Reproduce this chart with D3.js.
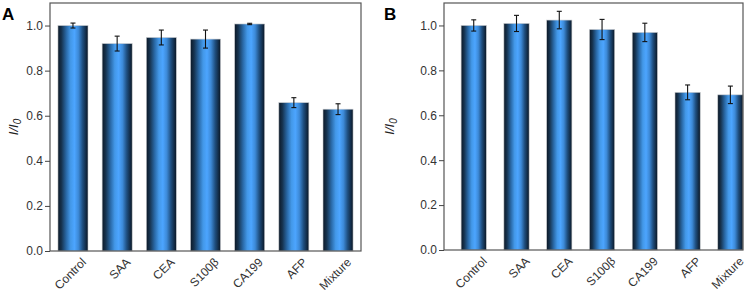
<!DOCTYPE html>
<html><head><meta charset="utf-8">
<script src="https://cdn.jsdelivr.net/npm/d3@7"></script>
<style>body{margin:0;background:#fff}svg{display:block}</style>
</head><body>
<svg id="c" width="754" height="295"></svg>
<script>
const categories = ["Control","SAA","CEA","S100β","CA199","AFP","Mixture"];
const valuesA = [1.000, 0.920, 0.947, 0.940, 1.007, 0.658, 0.629];
const errorsA = [0.011, 0.033, 0.033, 0.040, 0.003, 0.022, 0.024];
const valuesB = [1.000, 1.009, 1.024, 0.982, 0.969, 0.702, 0.691];
const errorsB = [0.025, 0.036, 0.039, 0.045, 0.041, 0.033, 0.039];
const yTicks = [0.0, 0.2, 0.4, 0.6, 0.8, 1.0];
const panelLabels = ["A","B"];

const svg = d3.select("#c");
const defs = svg.append("defs");
const grad = defs.append("linearGradient").attr("id","barg").attr("x1","0%").attr("x2","100%").attr("y1","0%").attr("y2","0%");
[[0,"#0c1826"],[0.12,"#16334f"],[0.28,"#2a6aa8"],[0.42,"#4398e8"],[0.55,"#4ca5ff"],[0.68,"#3d8ad8"],[0.82,"#1f4f80"],[1,"#0a1624"]]
  .forEach(([o,c])=>grad.append("stop").attr("offset",o).attr("stop-color",c));

const FONT = "Liberation Sans, Arial, sans-serif";

function panel(cfg){
  const g = svg.append("g");
  const x = d3.scaleBand().domain(categories).range([cfg.left, cfg.right]).paddingInner(cfg.pi).paddingOuter(cfg.po).align(cfg.align);
  const y = d3.scaleLinear().domain([0,1.1]).range([cfg.bottom, cfg.top]);
  g.selectAll("rect.bar").data(categories).join("rect")
    .attr("x", d=>x(d)).attr("width", x.bandwidth())
    .attr("y", (d,i)=>y(cfg.values[i])).attr("height",(d,i)=>y(0)-y(cfg.values[i]))
    .attr("fill","url(#barg)").attr("stroke","#c8ccd0").attr("stroke-width",0.6);
  const eg = g.append("g").attr("stroke","#111").attr("stroke-width",1.1);
  categories.forEach((c,i)=>{
    const cx = x(c)+x.bandwidth()/2, v=cfg.values[i], e=cfg.errors[i];
    eg.append("line").attr("x1",cx).attr("x2",cx).attr("y1",y(v-e)).attr("y2",y(v+e));
    eg.append("line").attr("x1",cx-2.5).attr("x2",cx+2.5).attr("y1",y(v-e)).attr("y2",y(v-e));
    eg.append("line").attr("x1",cx-2.5).attr("x2",cx+2.5).attr("y1",y(v+e)).attr("y2",y(v+e));
  });
  g.append("rect").attr("x",cfg.left).attr("y",cfg.top).attr("width",cfg.right-cfg.left).attr("height",cfg.bottom-cfg.top)
    .attr("fill","none").attr("stroke","#555").attr("stroke-width",1.2);
  const ya = g.append("g").attr("transform",`translate(${cfg.left},0)`)
    .call(d3.axisLeft(y).tickValues(yTicks).tickFormat(d3.format(".1f")).tickSize(5).tickPadding(2));
  ya.select(".domain").remove();
  ya.selectAll("line").attr("stroke","#444");
  ya.selectAll("text").attr("font-family",FONT).attr("font-size",12).attr("fill","#333");
  // rotated category labels, each in its own rotated group
  const lg = g.append("g").selectAll("g").data(categories).join("g")
    .attr("transform", d=>"translate(" + (x(d)+x.bandwidth()/2+11) + "," + (cfg.bottom+9) + ") rotate(-45)");
  lg.append("text")
    .attr("text-anchor","end").attr("dy","0.35em")
    .attr("font-family",FONT).attr("font-size",12).attr("fill","#333")
    .text(d=>d);
  const t = g.append("text").attr("transform",`translate(${cfg.titleX},${(cfg.top+cfg.bottom)/2}) rotate(-90)`)
    .attr("text-anchor","middle").attr("font-family",FONT).attr("font-size",13).attr("fill","#222").attr("font-style","italic");
  t.append("tspan").text("I/I");
  t.append("tspan").attr("font-size",10).attr("dy",3).text("0");
  g.append("text").attr("x",cfg.letterX).attr("y",20).attr("font-family",FONT)
    .attr("font-weight","bold").attr("font-size",17).attr("fill","#000").text(cfg.letter);
}

panel({left:50,right:361,top:3,bottom:251,pi:0.32,po:0.18,align:0.5,values:valuesA,errors:errorsA,titleX:18,letterX:2,letter:panelLabels[0]});
panel({left:444,right:743,top:3,bottom:250,pi:0.41,po:0.2,align:1,values:valuesB,errors:errorsB,titleX:394,letterX:384,letter:panelLabels[1]});
</script>
</body></html>
